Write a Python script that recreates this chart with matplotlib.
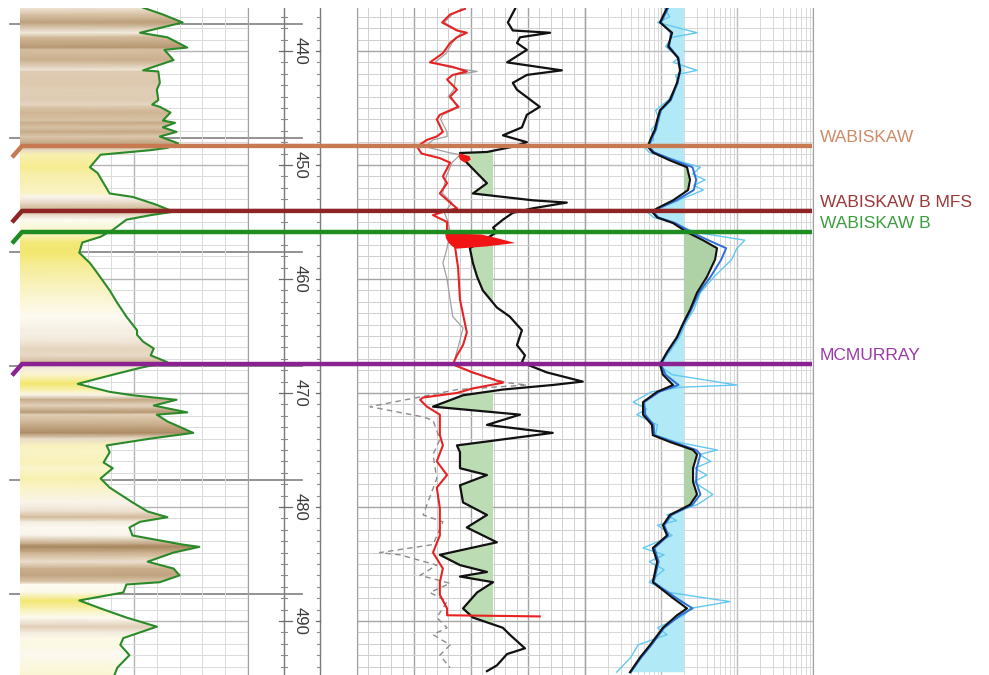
#!/usr/bin/env python3
"""Well log panel: GR lithology shading, porosity track, resistivity track, formation tops."""

import numpy as np
import matplotlib.pyplot as plt
from matplotlib.colors import LinearSegmentedColormap, Normalize
from matplotlib.patches import Polygon
from matplotlib.ticker import MultipleLocator, LogLocator, NullFormatter

plt.rcParams['font.family'] = ['Liberation Sans', 'DejaVu Sans']

W, H = 989, 675
TOP_PX = 8
DEPTH_TOP, DEPTH_BOT = 436.23, 494.74

# ---- track 1: gamma ray (API) ----
gr_depth = [436.2, 436.8, 437.5, 438.4, 438.8, 439.7, 439.9, 440.8, 441.7, 441.8,
            442.8, 443.4, 444.3, 444.7, 444.9, 445.4, 446.1, 446.3, 446.7, 447.1,
            447.5, 448.1, 448.5, 448.7, 449.1, 450.2, 450.7, 452.5, 452.8, 453.1,
            453.5, 454.1, 454.4, 454.8, 455.7, 456.3, 456.8, 457.7, 458.6, 459.5,
            461.0, 462.1, 463.3, 464.5, 464.9, 465.5, 466.1, 466.7, 467.3, 467.8,
            468.4, 469.2, 469.9, 470.2, 470.6, 471.1, 471.7, 471.9, 472.5, 473.5,
            474.0, 474.6, 475.2, 476.1, 476.6, 477.5, 478.3, 479.6, 480.4, 480.9,
            481.3, 481.8, 482.5, 483.3, 483.5, 484.0, 484.8, 485.4, 486.0, 486.6,
            486.8, 487.5, 488.2, 488.9, 489.7, 490.5, 491.0, 491.5, 492.1, 493.0,
            494.1, 494.8]
gr_api = [81, 94, 107, 79, 97, 110, 95, 101, 81, 91,
          92, 90, 91, 87, 92, 99, 94, 102, 94, 103,
          92, 104, 97, 86, 53, 46, 51, 59, 74, 81,
          90, 101, 86, 70, 61, 53, 41, 39, 46, 51,
          59, 64, 70, 77, 77, 81, 88, 86, 97, 79,
          61, 38, 59, 74, 103, 88, 110, 90, 97, 114,
          86, 57, 59, 55, 61, 53, 59, 74, 84, 97,
          79, 72, 74, 107, 118, 101, 84, 101, 105, 92,
          70, 68, 39, 53, 70, 90, 79, 68, 66, 72,
          64, 62]

# ---- track 2: porosity curves (p.u.) ----
red_depth = [436.3, 436.8, 437.5, 438.2, 438.4, 438.8, 439.3, 440.2, 441.0, 441.4,
             441.8, 442.1, 442.5, 443.4, 444.0, 444.9, 445.6, 446.0, 447.1, 447.5,
             447.8, 448.4, 449.0, 449.4, 449.8, 451.0, 451.6, 452.5, 453.3, 453.8,
             454.2, 454.4, 455.0, 455.7, 456.4, 457.2, 459.0, 461.8, 464.7, 465.8,
             466.7, 467.5, 468.2, 469.1, 469.6, 470.0, 470.4, 470.6, 471.2, 471.9,
             473.7, 474.6, 476.0, 477.2, 478.3, 480.1, 482.5, 484.0, 485.4, 486.6,
             487.7, 488.9, 489.5, 489.6]
red_value = [28.4, 24.5, 22.4, 26.3, 28.9, 26.3, 24.5, 22.6, 19.2, 25.2,
             28.9, 25.2, 23.7, 26.3, 24.5, 26.6, 21.8, 21.0, 22.6, 21.0,
             18.4, 15.8, 17.0, 21.8, 24.5, 22.6, 23.7, 21.8, 24.5, 26.3,
             21.8, 20.0, 23.7, 23.7, 25.2, 25.8, 26.6, 27.1, 28.9, 27.9,
             26.3, 25.2, 30.5, 38.4, 30.5, 26.3, 17.4, 16.6, 18.4, 21.8,
             21.8, 22.6, 21.0, 23.7, 21.0, 21.8, 21.8, 20.0, 22.6, 21.8,
             21.8, 23.7, 23.7, 48.1]

black_depth = [436.3, 437.5, 438.2, 438.4, 438.8, 439.3, 439.9, 441.0, 441.7, 442.1,
               442.8, 443.4, 444.9, 445.6, 446.7, 447.4, 448.0, 448.4, 448.86, 448.95,
               449.8, 451.6, 452.5, 453.1, 453.3, 453.8, 454.2, 454.8, 455.5, 455.9,
               457.3, 458.6, 459.8, 461.0, 462.5, 463.3, 464.5, 465.8, 466.7, 467.3,
               467.5, 468.2, 469.0, 469.3, 469.7, 470.2, 471.2, 471.9, 472.8, 473.5,
               474.6, 475.2, 476.6, 477.2, 478.1, 479.6, 480.7, 481.8, 483.1, 484.2,
               485.1, 485.7, 486.1, 486.6, 487.5, 488.9, 489.7, 490.6, 491.2, 492.4,
               492.9, 493.9, 494.4]
black_value = [41.6, 39.7, 41.0, 50.8, 42.9, 42.1, 44.7, 39.5, 53.9, 44.7,
               41.0, 42.1, 48.1, 44.7, 43.4, 38.4, 44.7, 41.0, 34.2, 27.1,
               28.9, 34.2, 30.5, 46.3, 55.2, 46.3, 41.0, 38.4, 35.8, 36.8,
               29.7, 30.5, 31.6, 33.1, 36.8, 40.2, 43.4, 42.1, 44.2, 43.4,
               44.7, 50.0, 59.4, 51.5, 38.4, 27.9, 20.0, 42.9, 34.2, 51.5,
               26.3, 27.1, 27.1, 34.2, 27.1, 27.9, 34.2, 28.9, 36.8, 21.8,
               27.1, 34.2, 27.1, 35.8, 31.6, 27.9, 30.5, 38.4, 40.2, 44.2,
               39.5, 36.8, 34.2]

gray_depth = [436.3, 436.8, 437.5, 438.4, 439.3, 440.2, 441.0, 441.4, 441.8, 442.1,
              443.4, 444.0, 444.9, 445.6, 446.0, 447.1, 447.5, 447.8, 448.4, 448.9,
              449.1, 449.8, 451.0, 452.5, 453.3, 454.2, 455.0, 455.9, 457.3, 458.6,
              460.0, 461.8, 463.3, 464.3, 465.5, 466.7, 467.5, 468.2]
gray_value = [27.5, 25.0, 23.0, 27.5, 25.0, 23.5, 20.5, 24.0, 31.6, 26.0,
              25.5, 24.0, 27.0, 22.5, 22.0, 23.7, 23.7, 20.0, 18.0, 24.0,
              27.1, 25.0, 23.5, 22.5, 25.0, 23.0, 24.0, 24.5, 23.7, 22.6,
              23.7, 24.5, 25.2, 27.9, 27.0, 26.0, 25.5, 30.0]

grayd_depth = [468.2, 469.1, 469.3, 469.7, 470.35, 471.2, 472.1, 472.4, 473.3, 474.1,
               475.4, 477.5, 480.7, 481.3, 483.3, 484.0, 484.2, 485.1, 486.0, 486.7,
               487.5, 488.3, 489.7, 490.6, 491.2, 492.1, 493.0, 494.1]
grayd_value = [30.0, 39.5, 44.7, 26.3, 16.6, 3.4, 17.4, 20.0, 21.0, 21.8,
               20.0, 21.0, 17.4, 22.6, 20.0, 6.0, 11.3, 21.0, 16.6, 24.5,
               19.2, 23.7, 21.0, 23.7, 20.0, 24.5, 21.8, 24.5]

# crossover shading
xover_depth = [455.95, 456.05, 456.4, 456.8, 457.1, 457.3]
xover_left = [23.5, 23.1, 23.3, 24.0, 25.0, 26.0]
xover_right = [23.6, 32.5, 37.0, 41.5, 34.0, 26.1]
xsmall_depth = [448.95, 449.2, 449.5, 449.75]
xsmall_left = [27.0, 26.6, 27.0, 28.2]
xsmall_right = [27.2, 29.5, 29.8, 28.4]
POR_CUTOFF = 35.8

# ---- track 3: resistivity (ohm.m) ----
res_depth = [436.2, 437.5, 438.4, 439.6, 440.6, 441.7, 442.8, 444.3, 445.2, 446.05,
             446.9, 447.8, 448.4, 448.9, 449.6, 450.2, 451.3, 452.2, 453.1, 453.8,
             454.1, 454.6, 455.1, 455.9, 456.6, 457.3, 458.3, 459.8, 461.2, 462.7,
             463.9, 465.1, 466.4, 467.5, 468.4, 469.3, 469.9, 470.8, 471.9, 472.8,
             473.7, 474.3, 475.0, 475.4, 476.6, 477.8, 478.9, 479.8, 480.7, 481.6,
             482.5, 483.6, 484.8, 486.6, 488.0, 488.9, 489.5, 490.6, 492.1, 493.2,
             494.5]
res_deep = [12.0, 9.7, 14.0, 12.4, 16.7, 17.8, 16.2, 13.1, 9.7, 8.9,
            8.3, 7.2, 6.7, 7.8, 13.1, 22.0, 24.1, 22.7, 14.4, 8.9,
            7.6, 8.9, 14.4, 22.0, 35.7, 54.6, 51.4, 40.3, 29.8, 24.1,
            19.5, 16.2, 12.0, 9.7, 10.6, 14.4, 8.9, 5.8, 5.8, 7.6,
            7.8, 13.1, 26.4, 29.8, 26.4, 26.4, 29.8, 24.1, 13.1, 10.6,
            12.0, 7.8, 8.9, 7.8, 14.4, 22.0, 16.2, 10.6, 7.2, 5.3,
            3.9]
res_med = [12.5, 10.0, 13.5, 12.8, 17.0, 18.0, 16.5, 13.5, 10.0, 9.2,
           8.6, 7.4, 6.9, 8.2, 15.0, 26.0, 29.0, 27.0, 16.0, 9.3,
           7.9, 9.2, 15.5, 25.0, 42.0, 72.0, 62.0, 45.0, 31.5, 25.0,
           20.0, 16.5, 12.3, 10.0, 11.5, 17.0, 9.5, 6.0, 6.2, 8.0,
           8.2, 14.5, 29.0, 33.0, 29.5, 29.0, 33.0, 26.0, 13.8, 11.0,
           12.5, 8.2, 9.3, 8.0, 16.0, 26.0, 18.0, 11.0, 7.5, 5.5,
           4.0]
shal_depth = [436.2, 437.0, 437.5, 438.4, 438.8, 439.6, 440.6, 441.0, 441.7, 442.1,
              442.8, 444.3, 445.2, 446.05, 446.9, 447.8, 448.4, 448.9, 449.6, 450.2,
              450.8, 451.3, 451.8, 452.2, 453.1, 453.8, 454.1, 454.6, 455.1, 455.9,
              456.6, 457.3, 458.3, 459.8, 461.2, 462.7, 463.9, 465.1, 466.4, 467.5,
              468.4, 469.3, 469.5, 469.9, 470.8, 471.4, 471.9, 472.8, 473.7, 474.3,
              475.0, 475.4, 476.0, 476.6, 477.2, 477.8, 478.9, 479.8, 480.7, 481.2,
              481.6, 482.5, 483.6, 484.2, 484.8, 485.5, 486.6, 487.5, 488.0, 488.3,
              488.9, 489.5, 490.6, 491.2, 492.1, 493.2, 494.5]
shal_value = [11.0, 13.0, 9.0, 29.8, 14.0, 11.5, 17.0, 14.5, 29.8, 15.5,
              17.0, 12.5, 8.5, 9.5, 7.5, 8.0, 6.0, 7.0, 16.0, 33.0,
              26.0, 38.0, 27.0, 36.0, 17.0, 9.5, 6.5, 8.0, 15.0, 28.0,
              127.0, 100.0, 85.0, 50.0, 33.0, 27.0, 21.0, 17.5, 13.0, 9.0,
              14.0, 100.0, 18.0, 7.5, 4.3, 6.5, 4.8, 9.0, 8.5, 16.0,
              55.0, 32.0, 45.0, 28.0, 40.0, 27.0, 48.0, 30.0, 12.0, 16.0,
              9.0, 14.0, 5.8, 11.0, 7.0, 11.0, 7.0, 13.0, 40.0, 81.0,
              24.0, 20.0, 9.0, 12.0, 5.0, 4.0, 2.6]
RES_CUTOFF = 20.0

# ---- formation tops ----
top_names = ['WABISKAW', 'WABISKAW B MFS', 'WABISKAW B', 'MCMURRAY']
top_depths = [448.33, 454.03, 455.88, 467.46]
top_line_colors = ['#c77a52', '#8e2424', '#1f8c22', '#8a2391']
top_text_colors = ['#cf8a66', '#9c3838', '#3a9e3e', '#9a3aa6']

depth_labels = [440, 450, 460, 470, 480, 490]
marker_depths = [437.6, 447.6, 457.6, 467.6, 477.6, 487.6]


fig = plt.figure(figsize=(W / 100, H / 100), dpi=100)
AX_H = (H - TOP_PX) / H


def make_track(x0, x1, minor_color, major_color):
    ax = fig.add_axes([x0 / W, 0, (x1 - x0) / W, AX_H], zorder=1)
    ax.set_ylim(DEPTH_BOT, DEPTH_TOP)
    ax.set_facecolor('none')
    ax.yaxis.set_major_locator(MultipleLocator(10))
    ax.yaxis.set_minor_locator(MultipleLocator(1))
    ax.tick_params(which='both', length=0, labelleft=False, labelbottom=False)
    for side in ('top', 'bottom'):
        ax.spines[side].set_visible(False)
    for side in ('left', 'right'):
        ax.spines[side].set_color('#a0a0a0')
    ax.set_axisbelow(True)
    ax.grid(which='minor', color=minor_color, lw=0.7)
    ax.grid(which='major', color=major_color, lw=1.0)
    return ax


# background layer: depth track and marker lines
bg = fig.add_axes([0, 0, 1, AX_H], zorder=0)
bg.set_xlim(0, W)
bg.set_ylim(DEPTH_BOT, DEPTH_TOP)
bg.axis('off')
for d in marker_depths:
    bg.plot([10, 302], [d, d], color='#8a8a8a', lw=1.3)
for xl in (284, 320):
    bg.plot([xl, xl], [DEPTH_TOP, DEPTH_BOT], color='#7a7a7a', lw=1.0)
for d in range(437, 495):
    if d % 10 == 0:
        bg.plot([279, 292], [d, d], color='#6a6a6a', lw=0.9)
        bg.plot([316, 320], [d, d], color='#6a6a6a', lw=0.9)
    else:
        bg.plot([281, 287], [d, d], color='#8a8a8a', lw=0.8)
        bg.plot([317, 320], [d, d], color='#8a8a8a', lw=0.8)
for d in depth_labels:
    bg.text(300, d, str(d), rotation=270, ha='center', va='center',
            fontsize=12, color='#3a3a3a')

# track 1: GR with lithology colour shading
ax1 = make_track(20, 248, '#dadada', '#b4b4b4')
ax1.set_xlim(0, 150)
ax1.xaxis.set_major_locator(MultipleLocator(75))
ax1.xaxis.set_minor_locator(MultipleLocator(15))
ax1.spines['left'].set_visible(False)
litho = LinearSegmentedColormap.from_list('litho', [
    (0.00, '#f2e66c'), (0.22, '#f8f1b8'), (0.42, '#fdfbf4'),
    (0.58, '#ede2d2'), (0.76, '#d2b998'), (1.00, '#a8875f')])
gd = np.array(gr_depth)
gv = np.array(gr_api, dtype=float)
X = np.column_stack([np.zeros_like(gd), np.full_like(gd, 150.0)])
Y = np.column_stack([gd, gd])
C = np.column_stack([gv, gv])
mesh = ax1.pcolormesh(X, Y, C, shading='gouraud', cmap=litho,
                      norm=Normalize(38, 116), zorder=1)
clip = Polygon(np.column_stack([np.r_[gv, 0, 0], np.r_[gd, gd[-1], gd[0]]]),
               closed=True, facecolor='none', edgecolor='none',
               transform=ax1.transData)
ax1.add_patch(clip)
mesh.set_clip_path(clip)
ax1.plot(gr_api, gr_depth, color='#2a8a2a', lw=1.5, zorder=3)

# track 2: porosity curves
ax2 = make_track(357, 585, '#cfcfcf', '#a4a4a4')
ax2.set_xlim(0, 60)
ax2.xaxis.set_major_locator(MultipleLocator(15))
ax2.xaxis.set_minor_locator(MultipleLocator(3))
bd = np.array(black_depth)
bv = np.array(black_value)
ax2.fill_betweenx(bd, bv, POR_CUTOFF, where=(bv < POR_CUTOFF) & (bd < 490),
                  interpolate=True, color='#bcdcb3', lw=0, zorder=1)
ax2.plot(gray_value, gray_depth, color='#a0a0a0', lw=0.9, zorder=2)
ax2.plot(grayd_value, grayd_depth, color='#8c8c8c', lw=1.0,
         dashes=(4, 3), zorder=2)
ax2.plot(black_value, black_depth, color='#111111', lw=1.6, zorder=3)
ax2.plot(red_value, red_depth, color='#e82222', lw=1.5, zorder=4)
ax2.fill_betweenx(xover_depth, xover_left, xover_right, color='#f01414',
                  lw=0, zorder=5)
ax2.fill_betweenx(xsmall_depth, xsmall_left, xsmall_right, color='#f01414',
                  lw=0, zorder=5)

# track 3: resistivity, log scale
ax3 = make_track(585, 813, '#d8d8d8', '#bcbcbc')
ax3.set_xscale('log')
ax3.set_xlim(1, 1000)
ax3.xaxis.set_major_locator(LogLocator(base=10))
ax3.xaxis.set_minor_locator(LogLocator(base=10, subs=np.arange(2, 10)))
ax3.xaxis.set_minor_formatter(NullFormatter())
ax3.tick_params(which='both', length=0, labelbottom=False)
rd = np.array(res_depth)
rv = np.array(res_deep)
ax3.fill_betweenx(rd, rv, RES_CUTOFF, where=rv <= RES_CUTOFF, interpolate=True,
                  color='#b2e9f6', lw=0, zorder=1)
ax3.fill_betweenx(rd, rv, RES_CUTOFF, where=rv >= RES_CUTOFF, interpolate=True,
                  color='#aed2a6', lw=0, zorder=1)
ax3.plot(shal_value, shal_depth, color='#62c8f0', lw=1.0, zorder=2)
ax3.plot(res_med, res_depth, color='#2d6fd8', lw=1.4, zorder=3)
ax3.plot(res_deep, res_depth, color='#111111', lw=1.5, zorder=4)

# formation tops on top of everything
top = fig.add_axes([0, 0, 1, AX_H], zorder=5)
top.set_xlim(0, W)
top.set_ylim(DEPTH_BOT, DEPTH_TOP)
top.axis('off')
for name, d, lc, tc in zip(top_names, top_depths, top_line_colors, top_text_colors):
    top.plot([12, 22, 812], [d + 1.0, d, d], color=lc, lw=3.2,
             solid_capstyle='butt', solid_joinstyle='round')
    top.text(820, d - 0.05, name, color=tc, fontsize=12.5, ha='left', va='bottom')

fig.savefig('out.png', dpi=100)
